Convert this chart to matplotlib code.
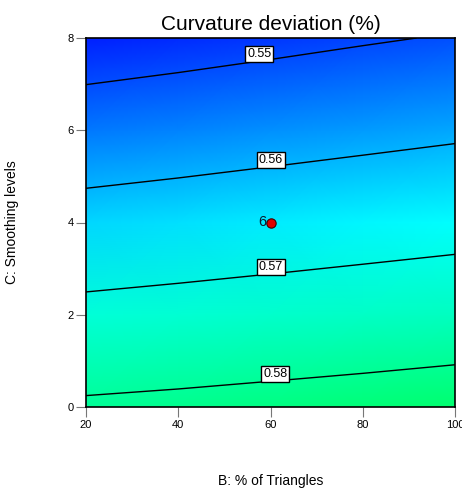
import numpy as np
import matplotlib
matplotlib.use('Agg')
import matplotlib.pyplot as plt
from matplotlib.colors import LinearSegmentedColormap

plt.rcParams['font.family'] = ['Liberation Sans', 'DejaVu Sans']

# 数据：B (% of Triangles) 和 C (Smoothing levels) 网格上的曲率偏差
b_values = [20, 40, 60, 80, 100]
c_values = [0, 2, 4, 6, 8]
deviation = [
    [0.5811, 0.5817, 0.5824, 0.5831, 0.5838],  # C = 0
    [0.5722, 0.5730, 0.5738, 0.5746, 0.5755],  # C = 2
    [0.5633, 0.5642, 0.5652, 0.5662, 0.5671],  # C = 4
    [0.5544, 0.5555, 0.5566, 0.5577, 0.5588],  # C = 6
    [0.5455, 0.5467, 0.5480, 0.5493, 0.5505],  # C = 8
]
contour_levels = [0.55, 0.56, 0.57, 0.58]
point_b = [60]
point_c = [4]
point_labels = ['6']

X, Y = np.meshgrid(b_values, c_values)
Z = np.array(deviation)

# 蓝 -> 青 -> 绿 的配色
vmin, vmax = Z.min(), Z.max()
nodes = [(0.5455, (0, 0.12, 1)), (0.5505, (0, 0.31, 1)), (0.5670, (0, 1, 1)),
         (0.5811, (0, 1, 0.59)), (0.5838, (0, 1, 0.43))]
cmap = LinearSegmentedColormap.from_list(
    'dx', [((v - vmin) / (vmax - vmin), c) for v, c in nodes])

fig = plt.figure(figsize=(4.62, 4.91), dpi=100)
ax = fig.add_axes([86 / 462, 1 - 407 / 491, 369 / 462, 369 / 491])

ax.pcolormesh(X, Y, Z, shading='gouraud', cmap=cmap, vmin=vmin, vmax=vmax)
cs = ax.contour(X, Y, Z, levels=contour_levels, colors='black', linewidths=1)

# 等值线标签放在 B=58~61 附近，略高于线
label_b = [57.5, 60, 60, 61]
manual = []
for lev, bx in zip(contour_levels, label_b):
    col = Z[:, 2]
    c_at = np.interp(lev, col[::-1], np.array(c_values)[::-1])
    manual.append((bx, c_at))
labels = ax.clabel(cs, fmt='%.2f', manual=manual, inline=False, fontsize=9)
for t in labels:
    t.set_rotation(0)
    x0, y0 = t.get_position()
    t.set_position((x0, y0 + 0.15))
    t.set_bbox(dict(facecolor='white', edgecolor='black', boxstyle='square,pad=0.15', linewidth=1))

ax.scatter(point_b, point_c, s=45, color='#dd0000', edgecolors='#400000', linewidths=0.8, zorder=5)
for bx, cy, lab in zip(point_b, point_c, point_labels):
    ax.text(bx - 1.0, cy, lab, ha='right', va='center', fontsize=10.5, color='#0a1a30', zorder=5)

ax.set_xlim(20, 100)
ax.set_ylim(0, 8)
ax.set_xticks([20, 40, 60, 80, 100])
ax.set_yticks([0, 2, 4, 6, 8])
ax.tick_params(direction='out', length=7, color='#777777', labelsize=8, pad=2)
for s in ax.spines.values():
    s.set_color('black')
    s.set_linewidth(1.2)

ax.set_title('Curvature deviation (%)', fontsize=15, pad=6)
ax.set_xlabel('B: % of Triangles', fontsize=10, labelpad=32)
ax.set_ylabel('C: Smoothing levels', fontsize=10, labelpad=35)

fig.savefig('out.png', dpi=100)
